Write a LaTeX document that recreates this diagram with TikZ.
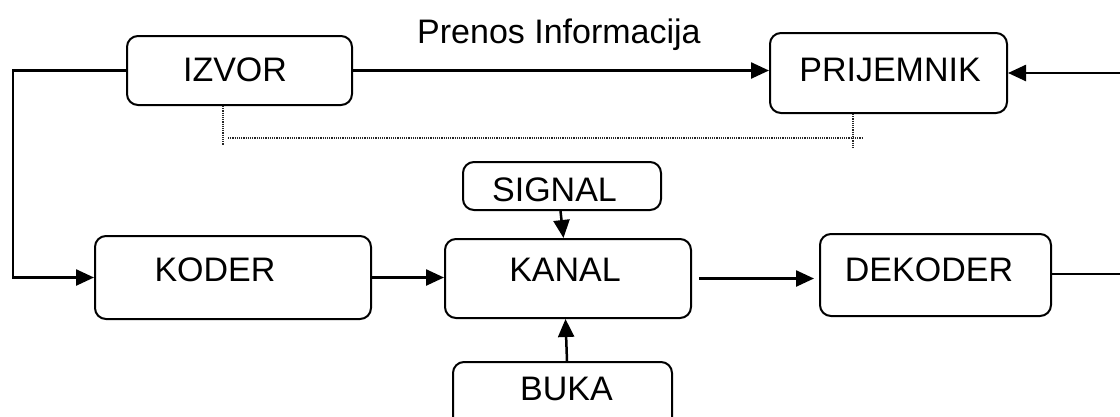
\documentclass[tikz,border=0pt]{standalone}
\usepackage{fontspec}
\setmainfont{Liberation Sans}
\usetikzlibrary{arrows.meta}
\begin{document}
\begin{tikzpicture}[x=1pt,y=-1pt,
  blk/.style={draw=black,line width=2pt,rounded corners=11pt,inner sep=0pt},
  lbl/.style={inner sep=0pt,font=\fontsize{34}{40}\selectfont},
  conn/.style={line width=2.5pt,-{Triangle[length=18pt,width=16pt]}},
  plain/.style={line width=2.5pt},
  guide/.style={line width=1.2pt,densely dotted,black!85}]
\useasboundingbox (0,0) rectangle (1120,416);
% boxes
\node[blk,minimum width=225pt,minimum height=69pt] (izvor) at (239.5,70.5) {};
\node[blk,minimum width=237pt,minimum height=80pt] (prijemnik) at (888.5,73) {};
\node[blk,minimum width=198pt,minimum height=48pt] (signal) at (562,186) {};
\node[blk,minimum width=246pt,minimum height=79pt] (kanal) at (568,278.5) {};
\node[blk,minimum width=219pt,minimum height=78pt] (buka) at (562.5,401) {};
\node[blk,minimum width=276pt,minimum height=83pt] (koder) at (233,277.5) {};
\node[blk,minimum width=231pt,minimum height=82pt] (dekoder) at (935.5,275) {};
% texts
\node[lbl] (tizvor) at (235,70) {IZVOR};
\node[lbl] (tprijemnik) at (890,70) {PRIJEMNIK};
\node[lbl] (tsignal) at (554.5,190) {SIGNAL};
\node[lbl] (tkanal) at (565,270) {KANAL};
\node[lbl] (tbuka) at (566.5,388.5) {BUKA};
\node[lbl] (tkoder) at (215,270) {KODER};
\node[lbl] (tdekoder) at (929,270) {DEKODER};
\node[lbl,anchor=base west] (prenos) at (417,43) {Prenos Informacija};
% free ends
\coordinate (r1) at (1120,73);
\coordinate (r2) at (1120,274);
% connectors
\draw[conn] (izvor.west) -- ++(-113,0) |- (koder.west);
\draw[conn] (izvor.east) -- (izvor.east -| prijemnik.west);
\draw[conn] (r1) -- (prijemnik.east);
\draw[plain] (dekoder.east |- r2) -- (r2);
\draw[conn] (koder.east) -- (koder.east -| kanal.west);
\draw[conn,shorten <=7pt,shorten >=5pt] (kanal.east) -- (kanal.east -| dekoder.west);
\draw[conn] ([xshift=-1.5pt]signal.south) -- ([xshift=-4.5pt]kanal.north);
\draw[conn] ([xshift=4.5pt]buka.north) -- ([xshift=-2.5pt]kanal.south);
% dotted guide
\draw[guide] (izvor.south -| 223,0) -- (223,145);
\draw[guide] (228,138) -- (863,138);
\draw[guide] (prijemnik.south -| 853,0) -- (853,149);
\end{tikzpicture}
\end{document}
